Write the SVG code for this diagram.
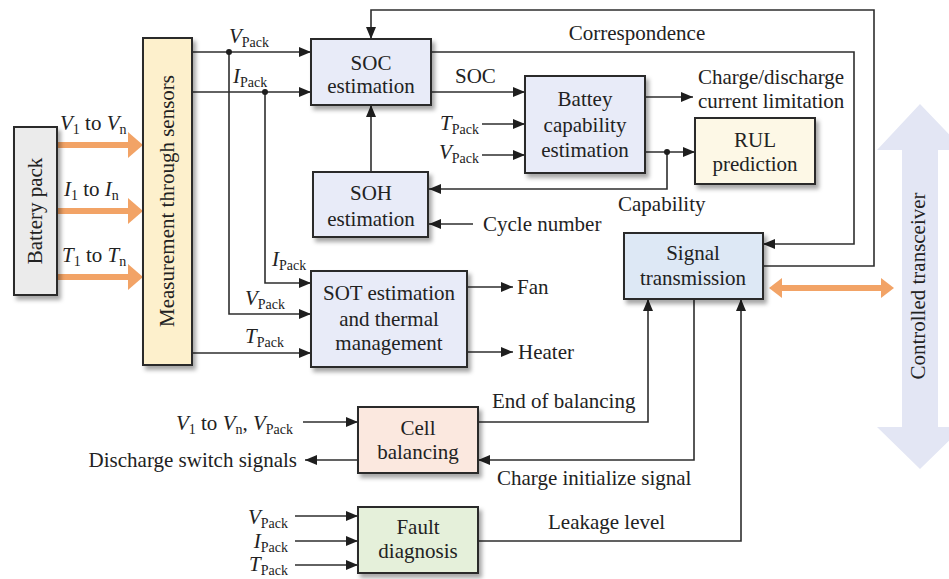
<svg xmlns="http://www.w3.org/2000/svg" width="949" height="579" viewBox="0 0 949 579" font-family="'Liberation Serif', 'DejaVu Serif', serif">
<defs>
<style>
.t{font-family:'Liberation Serif','DejaVu Serif',serif;font-size:21px;fill:#222}
.s{font-size:14px}
.i{font-style:italic}
.box{stroke:#2b2b2b;stroke-width:2;filter:url(#sh)}
.ln{fill:none;stroke:#2e2e2e;stroke-width:1.6}
.ar{marker-end:url(#ah)}
.or{fill:none;stroke:#f2a366;stroke-width:6}
</style>
<filter id="sh" x="-10%" y="-10%" width="130%" height="130%">
<feDropShadow dx="3" dy="4" stdDeviation="2" flood-color="#000" flood-opacity="0.35"/>
</filter>
<marker id="ah" markerUnits="userSpaceOnUse" markerWidth="13" markerHeight="11" refX="12" refY="5" orient="auto">
<path d="M0,0 L12,5 L0,10 z" fill="#1e1e1e"/>
</marker>
</defs>
<rect width="949" height="579" fill="#fff"/>

<g id="transceiver">
<polygon points="920,104 964,150 938,150 938,427 963,427 920,469 877,427 902,427 902,150 877,150" fill="#e3e6f4"/>
<text class="t" transform="translate(925,286) rotate(-90)" text-anchor="middle">Controlled transceiver</text>
</g>

<g id="connectors">
<path class="ln ar" d="M192,52 H311"/>
<path class="ln ar" d="M229,52 V314 H311"/>
<circle cx="229" cy="52" r="3" fill="#1e1e1e"/>
<path class="ln ar" d="M192,92 H311"/>
<path class="ln ar" d="M265,92 V283 H311"/>
<circle cx="265" cy="92" r="3" fill="#1e1e1e"/>
<path class="ln ar" d="M192,353 H311"/>
<path class="ln ar" d="M431,92 H525"/>
<path class="ln ar" d="M482,124 H525"/>
<path class="ln ar" d="M482,155 H525"/>
<path class="ln ar" d="M645,97 H693"/>
<path class="ln ar" d="M645,152 H695"/>
<path class="ln ar" d="M667,152 V189 H429"/>
<circle cx="667" cy="152" r="3" fill="#1e1e1e"/>
<path class="ln ar" d="M473,224 H429"/>
<path class="ln ar" d="M371,172 V105"/>
<path class="ln ar" d="M431,52 H854 V244 H763"/>
<path class="ln ar" d="M763,266 H874 V10 H371 V39"/>
<path class="ln ar" d="M467,287 H513"/>
<path class="ln ar" d="M467,352 H513"/>
<path class="ln ar" d="M303,422 H358"/>
<path class="ln ar" d="M358,460 H305"/>
<path class="ln ar" d="M478,422 H648 V299"/>
<path class="ln ar" d="M694,299 V460 H478"/>
<path class="ln ar" d="M295,516 H358"/>
<path class="ln ar" d="M295,541 H358"/>
<path class="ln ar" d="M295,565 H358"/>
<path class="ln ar" d="M478,541 H741 V299"/>
<path class="or" d="M57,145 H130"/>
<polygon points="128,132 143,145 128,158" fill="#f2a366"/>
<path class="or" d="M57,211 H130"/>
<polygon points="128,198 143,211 128,224" fill="#f2a366"/>
<path class="or" d="M57,277 H130"/>
<polygon points="128,264 143,277 128,290" fill="#f2a366"/>
<path class="or" d="M780,288 H883" stroke-width="5"/>
<polygon points="782,278 769,288 782,298" fill="#f2a366"/>
<polygon points="881,278 894,288 881,298" fill="#f2a366"/>
</g>

<g id="labels">
<text class="t" x="60" y="130"><tspan class="i">V</tspan><tspan class="s" dy="4">1</tspan><tspan dy="-4"> to </tspan><tspan class="i">V</tspan><tspan class="s" dy="4">n</tspan></text>
<text class="t" x="64" y="196"><tspan class="i">I</tspan><tspan class="s" dy="4">1</tspan><tspan dy="-4"> to </tspan><tspan class="i">I</tspan><tspan class="s" dy="4">n</tspan></text>
<text class="t" x="62" y="262"><tspan class="i">T</tspan><tspan class="s" dy="4">1</tspan><tspan dy="-4"> to </tspan><tspan class="i">T</tspan><tspan class="s" dy="4">n</tspan></text>
<text class="t" x="229" y="43"><tspan class="i">V</tspan><tspan class="s" dy="4">Pack</tspan></text>
<text class="t" x="233" y="83"><tspan class="i">I</tspan><tspan class="s" dy="4">Pack</tspan></text>
<text class="t" x="272" y="266"><tspan class="i">I</tspan><tspan class="s" dy="4">Pack</tspan></text>
<text class="t" x="245" y="305"><tspan class="i">V</tspan><tspan class="s" dy="4">Pack</tspan></text>
<text class="t" x="245" y="343"><tspan class="i">T</tspan><tspan class="s" dy="4">Pack</tspan></text>
<text class="t" x="440" y="130"><tspan class="i">T</tspan><tspan class="s" dy="4">Pack</tspan></text>
<text class="t" x="439" y="159"><tspan class="i">V</tspan><tspan class="s" dy="4">Pack</tspan></text>
<text class="t" x="637" y="40" text-anchor="middle">Correspondence</text>
<text class="t" x="455" y="83">SOC</text>
<text class="t" x="698" y="84">Charge/discharge</text>
<text class="t" x="698" y="108">current limitation</text>
<text class="t" x="618" y="211">Capability</text>
<text class="t" x="483" y="231">Cycle number</text>
<text class="t" x="517" y="294">Fan</text>
<text class="t" x="518" y="359">Heater</text>
<text class="t" x="293" y="430" text-anchor="end"><tspan class="i">V</tspan><tspan class="s" dy="4">1</tspan><tspan dy="-4"> to </tspan><tspan class="i">V</tspan><tspan class="s" dy="4">n</tspan><tspan dy="-4">, </tspan><tspan class="i">V</tspan><tspan class="s" dy="4">Pack</tspan></text>
<text class="t" x="297" y="467" text-anchor="end">Discharge switch signals</text>
<text class="t" x="288" y="524" text-anchor="end"><tspan class="i">V</tspan><tspan class="s" dy="4">Pack</tspan></text>
<text class="t" x="288" y="548" text-anchor="end"><tspan class="i">I</tspan><tspan class="s" dy="4">Pack</tspan></text>
<text class="t" x="288" y="571" text-anchor="end"><tspan class="i">T</tspan><tspan class="s" dy="4">Pack</tspan></text>
<text class="t" x="492" y="408">End of balancing</text>
<text class="t" x="497" y="485">Charge initialize signal</text>
<text class="t" x="548" y="529">Leakage level</text>
</g>

<g id="battery-pack">
<rect class="box" x="14" y="127" width="43" height="168" fill="#ebebeb"/>
<text class="t" transform="translate(42,211) rotate(-90)" text-anchor="middle">Battery pack</text>
</g>
<g id="measurement">
<rect class="box" x="143" y="38" width="49" height="327" fill="#fdf0cc"/>
<text class="t" transform="translate(174,201) rotate(-90)" text-anchor="middle">Measurement through sensors</text>
</g>
<g id="soc">
<rect class="box" x="311" y="39" width="120" height="66" fill="#e8ebf8"/>
<text class="t" x="371" y="70" text-anchor="middle">SOC</text>
<text class="t" x="371" y="93" text-anchor="middle">estimation</text>
</g>
<g id="soh">
<rect class="box" x="313" y="172" width="115" height="65" fill="#e8ebf8"/>
<text class="t" x="371" y="200" text-anchor="middle">SOH</text>
<text class="t" x="371" y="226" text-anchor="middle">estimation</text>
</g>
<g id="battery-capability">
<rect class="box" x="525" y="76" width="120" height="97" fill="#e8ebf8"/>
<text class="t" x="585" y="106" text-anchor="middle">Battey</text>
<text class="t" x="585" y="132" text-anchor="middle">capability</text>
<text class="t" x="585" y="157" text-anchor="middle">estimation</text>
</g>
<g id="rul">
<rect class="box" x="695" y="118" width="120" height="66" fill="#fdf8e6"/>
<text class="t" x="755" y="147" text-anchor="middle">RUL</text>
<text class="t" x="755" y="171" text-anchor="middle">prediction</text>
</g>
<g id="sot">
<rect class="box" x="311" y="271" width="156" height="96" fill="#e8ebf8"/>
<text class="t" x="389" y="300" text-anchor="middle">SOT estimation</text>
<text class="t" x="389" y="326" text-anchor="middle">and thermal</text>
<text class="t" x="389" y="350" text-anchor="middle">management</text>
</g>
<g id="signal">
<rect class="box" x="624" y="233" width="139" height="66" fill="#dde8f5"/>
<text class="t" x="693" y="260" text-anchor="middle">Signal</text>
<text class="t" x="693" y="285" text-anchor="middle">transmission</text>
</g>
<g id="cell-balancing">
<rect class="box" x="358" y="407" width="120" height="66" fill="#fbe8df"/>
<text class="t" x="418" y="435" text-anchor="middle">Cell</text>
<text class="t" x="418" y="459" text-anchor="middle">balancing</text>
</g>
<g id="fault">
<rect class="box" x="358" y="507" width="120" height="66" fill="#e5f0da"/>
<text class="t" x="418" y="534" text-anchor="middle">Fault</text>
<text class="t" x="418" y="558" text-anchor="middle">diagnosis</text>
</g>
</svg>
